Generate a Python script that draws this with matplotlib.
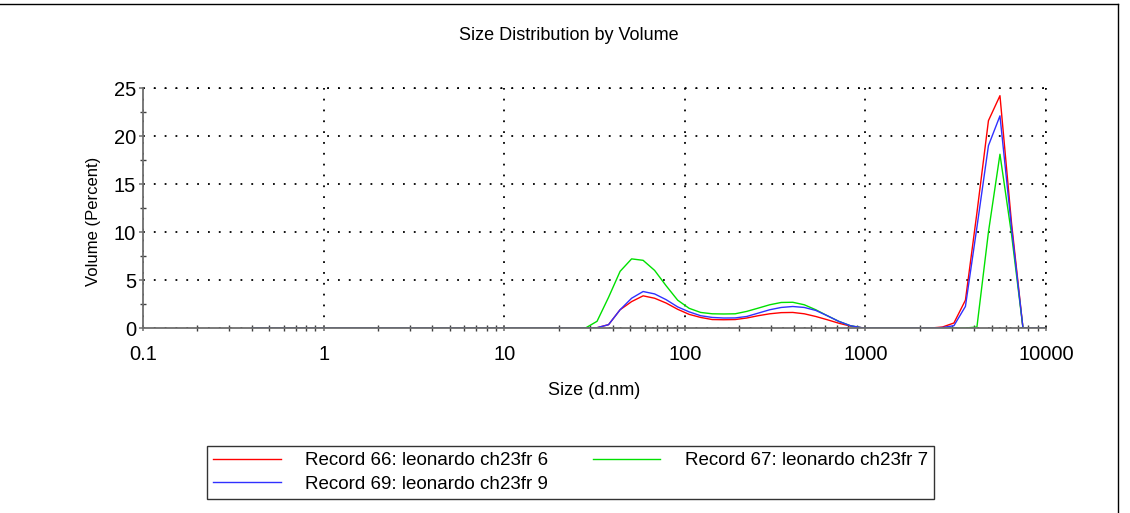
import matplotlib
matplotlib.use("Agg")
import matplotlib.pyplot as plt
from matplotlib.lines import Line2D
from matplotlib.ticker import FixedLocator, FixedFormatter, MultipleLocator, NullFormatter, LogLocator

plt.rcParams['font.family'] = ['Liberation Sans', 'DejaVu Sans']

# Size bins (d.nm)
sizes = [0.4, 0.4632, 0.5365, 0.6213, 0.7195, 0.8332, 0.9650, 1.117, 1.294, 1.499,
         1.736, 2.010, 2.328, 2.696, 3.122, 3.615, 4.187, 4.849, 5.615, 6.503,
         7.531, 8.721, 10.10, 11.70, 13.54, 15.69, 18.17, 21.04, 24.36, 28.21,
         32.67, 37.84, 43.82, 50.75, 58.77, 68.06, 78.82, 91.28, 105.7, 122.4,
         141.8, 164.2, 190.1, 220.2, 255.0, 295.3, 342.0, 396.1, 458.7, 531.2,
         615.1, 712.4, 825.0, 955.4, 1106, 1281, 1484, 1718, 1990, 2305,
         2669, 3091, 3580, 4145, 4801, 5560, 6439, 7456, 8635, 10000]

rec66 = [0]*30 + [0.03, 0.35, 1.9, 2.75, 3.35, 3.1, 2.6, 1.95, 1.42, 1.1,
                  0.88, 0.86, 0.88, 1.04, 1.28, 1.48, 1.6, 1.62, 1.48, 1.2,
                  0.86, 0.5, 0.2, 0.03, 0, 0, 0, 0, 0, 0,
                  0.1, 0.52, 2.9, 12.0, 21.6, 24.2, 11.0, 0, 0, 0]
rec69 = [0]*30 + [0.03, 0.35, 1.9, 3.1, 3.8, 3.55, 2.95, 2.2, 1.68, 1.28,
                  1.1, 1.04, 1.05, 1.2, 1.55, 1.9, 2.14, 2.24, 2.14, 1.83,
                  1.28, 0.69, 0.24, 0.03, 0, 0, 0, 0, 0, 0,
                  0.05, 0.24, 2.25, 10.5, 19.0, 22.1, 10.5, 0, 0, 0]
rec67 = [0]*30 + [0.7, 3.2, 5.9, 7.2, 7.05, 6.0, 4.4, 2.9, 2.05, 1.62,
                  1.48, 1.46, 1.48, 1.73, 2.07, 2.42, 2.66, 2.68, 2.42, 1.9,
                  1.28, 0.69, 0.24, 0.02, 0, 0, 0, 0, 0, 0,
                  0, 0, 0, 0.1, 10.0, 18.1, 9.8, 0, 0, 0]

labels = ["Record 66: leonardo ch23fr 6", "Record 69: leonardo ch23fr 9",
          "Record 67: leonardo ch23fr 7"]
xticks = [0.1, 1, 10, 100, 1000, 10000]
xticklabels = ["0.1", "1", "10", "100", "1000", "10000"]
yticks = [0, 5, 10, 15, 20, 25]

W, H = 1130, 513
fig = plt.figure(figsize=(W/100, H/100), dpi=100)
ax = fig.add_axes([143/W, 1-328/H, (1046-143)/W, (328-88)/H])

l66, = ax.plot(sizes, rec66, color='#ff0000', lw=1.0)
l67, = ax.plot(sizes, rec67, color='#00e000', lw=1.0)
l69, = ax.plot(sizes, rec69, color='#3030ff', lw=1.0)

ax.set_xscale('log')
ax.set_xlim(0.1, 10000)
ax.set_ylim(0, 25)

ax.xaxis.set_major_locator(FixedLocator(xticks))
ax.xaxis.set_major_formatter(FixedFormatter(xticklabels))
ax.xaxis.set_minor_locator(LogLocator(base=10, subs=range(2, 10)))
ax.xaxis.set_minor_formatter(NullFormatter())
ax.yaxis.set_major_locator(FixedLocator(yticks))
ax.yaxis.set_minor_locator(MultipleLocator(2.5))

for s in ['top', 'right']:
    ax.spines[s].set_visible(False)
for s in ['left', 'bottom']:
    ax.spines[s].set_color('#6e6e6e')
    ax.spines[s].set_linewidth(1.3)

ax.tick_params(axis='both', which='major', labelsize=14.5, colors='#6e6e6e',
               labelcolor='black', width=1.1)
ax.tick_params(axis='y', which='major', direction='out', length=3, pad=2)
ax.tick_params(axis='x', which='major', direction='inout', length=5, pad=10)
ax.tick_params(axis='both', which='minor', direction='inout', length=5,
               colors='#404040', width=1.0)

ax.grid(True, which='major', color='black', linestyle=(0, (1, 5)), lw=1.3)
ax.set_axisbelow(True)
# dotted lines at top and right edges
ax.axhline(25, color='black', linestyle=(0, (1, 5)), lw=1.3, clip_on=False)
ax.axvline(10000, color='black', linestyle=(0, (1, 5)), lw=1.3, clip_on=False)

ax.set_xlabel("Size (d.nm)", fontsize=13, labelpad=13)
ax.set_ylabel("Volume (Percent)", fontsize=12)
ax.yaxis.set_label_coords(-0.047, 0.444)

fig.text(569/W, 1-36/H, "Size Distribution by Volume", fontsize=13,
         ha='center', va='center')

leg = fig.legend([l66, l69, l67], labels, ncol=2, loc='upper left',
                 bbox_to_anchor=(207/W, 1-446/H), fontsize=13.5,
                 frameon=True, fancybox=False, edgecolor='black',
                 handlelength=3.6, handletextpad=1.33, columnspacing=2.35,
                 borderpad=0.32, labelspacing=0.36, borderaxespad=0)
leg.get_frame().set_linewidth(1.0)

# outer frame lines
fig.add_artist(Line2D([0, 1118/W], [1-4/H, 1-4/H], color='black', lw=1.0,
                      transform=fig.transFigure))
fig.add_artist(Line2D([1118/W, 1118/W], [1-4/H, 0], color='black', lw=1.0,
                      transform=fig.transFigure))

fig.savefig("out.png", dpi=100)
